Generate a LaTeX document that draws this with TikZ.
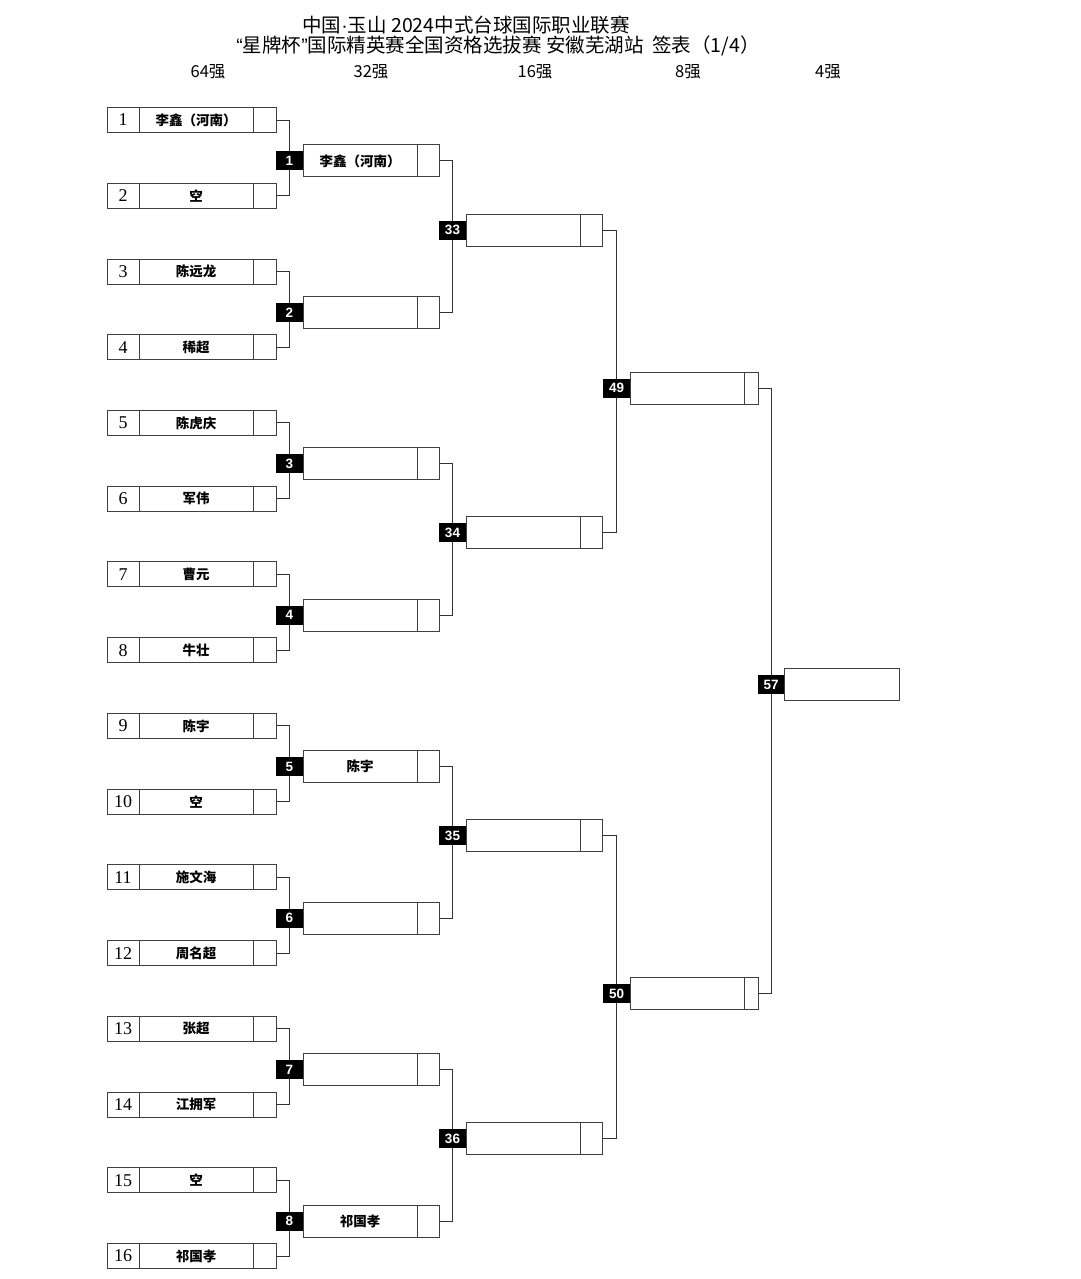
\documentclass[tikz,border=0pt]{standalone}
\usepackage{fontspec}
\setmainfont{Liberation Serif}
\newfontfamily\cjk{Noto Sans CJK SC}
\newfontfamily\arialb{Liberation Sans}
\usetikzlibrary{positioning}
\tikzset{cell/.style={draw=black!75,line width=0.9pt,minimum height=25pt,inner sep=0pt,outer sep=0pt},
         numcell/.style={cell,minimum width=32pt,font=\fontsize{18}{18}\selectfont},
         namecell/.style={cell,minimum width=114pt,font=\cjk\bfseries\fontsize{13.5}{13.5}\selectfont},
         ptcell/.style={cell,minimum width=23pt},
         wincell/.style={cell,minimum height=32pt,font=\cjk\bfseries\fontsize{13.5}{13.5}\selectfont},
         matchno/.style={fill=black,text=white,minimum width=27pt,minimum height=19pt,inner sep=0pt,outer sep=0pt,font=\arialb\bfseries\fontsize{13.5}{13.5}\selectfont},
         roundhead/.style={font=\cjk\fontsize{16.5}{16.5}\selectfont},
         titletxt/.style={font=\cjk\fontsize{19.5}{19.5}\selectfont,inner sep=0pt},
         link/.style={draw=black!80,line width=0.9pt}}

\begin{document}
\begin{tikzpicture}[x=1pt,y=-1pt]
\useasboundingbox (0,0) rectangle (1080,1279);
\fill[white] (0,0) rectangle (1080,1279);
\node[titletxt] (title1) at (466,25) {中国{\arialb ·}玉山 2024中式台球国际职业联赛};
\node[titletxt] (title2) at (498,46) {{\arialb “}星牌杯{\arialb ”}国际精英赛全国资格选拔赛 安徽芜湖站\ \ 签表（1/4）};
\node[roundhead] (h64) at (208,72) {64强};
\node[roundhead] (h32) at (371,72) {32强};
\node[roundhead] (h16) at (535,72) {16强};
\node[roundhead] (h8) at (688,72) {8强};
\node[roundhead] (h4) at (828,72) {4强};
\foreach \name [count=\i] in {李鑫（河南）,空,陈远龙,稀超,陈虎庆,军伟,曹元,牛壮,陈宇,空,施文海,周名超,张超,江拥军,空,祁国孝} {
  \pgfmathsetmacro\yy{120+(\i-1)*75.733}
  \node[numcell] (n\i) at (123,\yy) {\i};
  \node[namecell,right=0pt of n\i] (m\i) {\name};
  \node[ptcell,right=0pt of m\i] (s\i) {};
}
\foreach \name [count=\j] in {{李鑫（河南）},{},{},{},{陈宇},{},{},{祁国孝}} {
  \pgfmathsetmacro\yy{160.9+(\j-1)*151.47}
  \node[matchno] (k\j) at (289.5,\yy) {\j};
  \node[wincell,minimum width=114pt,right=0pt of k\j] (w\j) {\name};
  \node[wincell,minimum width=22.5pt,right=0pt of w\j] (ws\j) {};
  \pgfmathtruncatemacro\a{2*\j-1}
  \pgfmathtruncatemacro\b{2*\j}
  \draw[link] (s\a.east) -| (k\j.north);
  \draw[link] (s\b.east) -| (k\j.south);
}
\foreach \k in {1,...,4} {
  \pgfmathsetmacro\yy{230+(\k-1)*302.93}
  \pgfmathtruncatemacro\m{32+\k}
  \pgfmathtruncatemacro\a{2*\k-1}
  \pgfmathtruncatemacro\b{2*\k}
  \node[matchno] (k\m) at (452.5,\yy) {\m};
  \node[wincell,minimum width=114.5pt,right=0pt of k\m] (w\m) {};
  \node[wincell,minimum width=22pt,right=0pt of w\m] (ws\m) {};
  \draw[link] (ws\a.east) -| (k\m.north);
  \draw[link] (ws\b.east) -| (k\m.south);
}
\foreach \k in {1,2} {
  \pgfmathsetmacro\yy{388+(\k-1)*605.86}
  \pgfmathtruncatemacro\m{48+\k}
  \pgfmathtruncatemacro\a{30+2*\k+1}
  \pgfmathtruncatemacro\b{30+2*\k+2}
  \node[matchno] (k\m) at (616.5,\yy) {\m};
  \node[wincell,minimum width=114.5pt,right=0pt of k\m] (w\m) {};
  \node[wincell,minimum width=13.5pt,right=0pt of w\m] (ws\m) {};
  \draw[link] (ws\a.east) -| (k\m.north);
  \draw[link] (ws\b.east) -| (k\m.south);
}
\node[matchno] (k57) at (771,684.5) {57};
\node[wincell,minimum width=115pt,right=0pt of k57] (w57) {};
\draw[link] (ws49.east) -| (k57.north);
\draw[link] (ws50.east) -| (k57.south);
\end{tikzpicture}
\end{document}
